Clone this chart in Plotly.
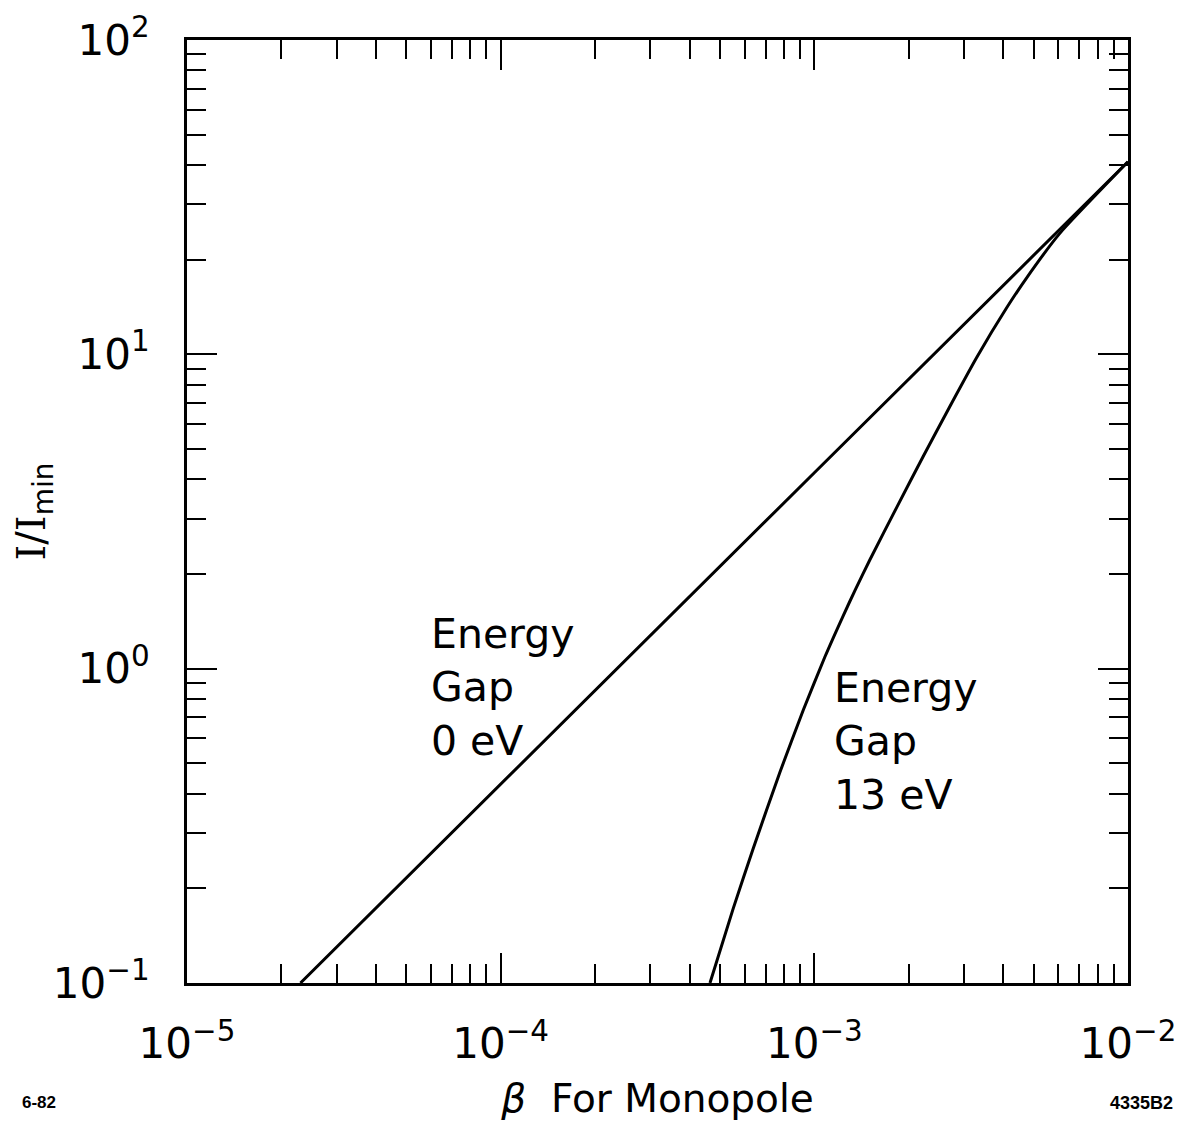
import plotly.graph_objects as go

# ---- data ----
beta_gap0 = [2.3e-5, 1e-4, 1e-3, 1e-2]
ratio_gap0 = [0.1, 0.43, 4.2, 41.0]

beta_gap13 = [4.649e-4, 5.515e-4, 6.389e-4, 7.772e-4, 9.222e-4, 1.081e-3, 1.237e-3,
              1.348e-3, 1.505e-3, 1.831e-3, 2.225e-3, 2.707e-3, 3.293e-3, 4.104e-3,
              4.753e-3, 6.07e-3, 1e-2]
ratio_gap13 = [0.100, 0.1727, 0.2685, 0.4692, 0.7384, 1.091, 1.476,
               1.775, 2.225, 3.260, 4.742, 6.840, 9.772, 14.06,
               17.52, 24.3, 41.0]

x_tickvals = [1e-5, 1e-4, 1e-3, 1e-2]
x_ticktext = ["10<sup>−5</sup>", "10<sup>−4</sup>", "10<sup>−3</sup>", "10<sup>−2</sup>"]
y_tickvals = [0.1, 1, 10, 100]
y_ticktext = ["10<sup>−1</sup>", "10<sup>0</sup>", "10<sup>1</sup>", "10<sup>2</sup>"]

x_minor = [m * 10.0 ** e for e in (-5, -4, -3) for m in range(2, 10)]
y_minor = [m * 10.0 ** e for e in (-1, 0, 1) for m in range(2, 10)]

FONT = "DejaVu Sans"

fig = go.Figure()
fig.add_trace(go.Scatter(x=beta_gap0, y=ratio_gap0, mode="lines",
                         line=dict(color="black", width=3), showlegend=False))
fig.add_trace(go.Scatter(x=beta_gap13, y=ratio_gap13, mode="lines",
                         line=dict(color="black", width=3, shape="spline", smoothing=0.5),
                         showlegend=False))

axis_common = dict(
    type="log", showgrid=False, zeroline=False, automargin=False,
    showline=True, linecolor="black", linewidth=3, mirror="allticks",
    ticks="inside", ticklen=30, tickwidth=2, tickcolor="black",
    ticklabeloverflow="allow",
    tickfont=dict(family=FONT, size=42, color="black"),
    minor=dict(ticks="inside", ticklen=19, tickwidth=2, tickcolor="black", showgrid=False),
)

fig.update_xaxes(**axis_common, range=[-5, -1.99999], tickmode="array",
                 tickvals=x_tickvals, ticktext=x_ticktext,
                 ticklabelstandoff=22)
fig.update_xaxes(minor_tickmode="array", minor_tickvals=x_minor)
fig.update_xaxes(title=dict(text="<i>β</i>  For Monopole",
                            font=dict(family=FONT, size=39, color="black"), standoff=18))
fig.update_yaxes(**axis_common, range=[-1.00001, 2.00001], tickmode="array",
                 tickvals=y_tickvals, ticktext=y_ticktext,
                 ticklabelstandoff=26)
fig.update_yaxes(minor_tickmode="array", minor_tickvals=y_minor)
fig.update_yaxes(title=dict(
    text="<span style=\"font-family:DejaVu Serif\">I</span>/"
         "<span style=\"font-family:DejaVu Serif\">I</span><sub>min</sub>",
    font=dict(family=FONT, size=40, color="black"), standoff=14))

fig.add_annotation(x=-4.23, y=-0.06, xref="x", yref="y", text="Energy<br>Gap<br>0 eV",
                   showarrow=False, xanchor="left", yanchor="middle", align="left",
                   font=dict(family=FONT, size=41, color="black"))
fig.add_annotation(x=-2.945, y=-0.233, xref="x", yref="y", text="Energy<br>Gap<br>13 eV",
                   showarrow=False, xanchor="left", yanchor="middle", align="left",
                   font=dict(family=FONT, size=41, color="black"))
fig.add_annotation(x=-0.1775, y=-0.127, xref="paper", yref="paper", text="<b>6-82</b>",
                   showarrow=False, xanchor="left", yanchor="middle",
                   font=dict(family="Liberation Sans", size=17, color="black"))
fig.add_annotation(x=1.05, y=-0.127, xref="paper", yref="paper", text="<b>4335B2</b>",
                   showarrow=False, xanchor="right", yanchor="middle",
                   font=dict(family="Liberation Sans", size=18, color="black"))

fig.update_layout(
    width=1167, height=1122,
    margin=dict(l=179, r=47, t=32, b=147),
    paper_bgcolor="white", plot_bgcolor="white",
)

fig.write_html("out.html")
